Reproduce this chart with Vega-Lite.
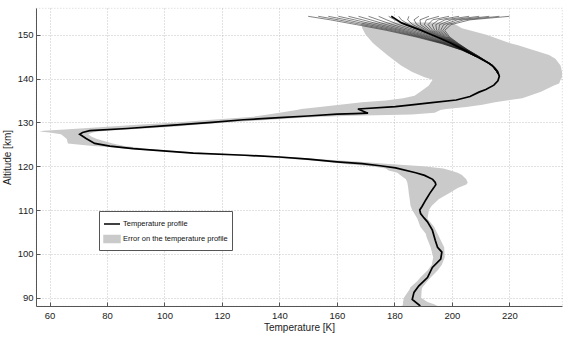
{
  "$schema": "https://vega.github.io/schema/vega-lite/v6.json",
  "width": 526,
  "height": 298,
  "autosize": "none",
  "padding": {"left": 36, "top": 8, "right": 8, "bottom": 31},
  "background": "white",
  "config": {
    "font": "Liberation Sans",
    "view": {"stroke": "#c8c8c8", "strokeDash": [1, 2], "strokeWidth": 0.8},
    "axis": {
      "grid": true,
      "gridDash": [1, 2],
      "gridColor": "#b4b4b4",
      "gridWidth": 0.8,
      "domainColor": "#555555",
      "domainWidth": 1,
      "tickColor": "#555555",
      "tickSize": -4,
      "labelFontSize": 9.5,
      "labelColor": "#222222",
      "titleFontSize": 10,
      "titleFontWeight": "normal",
      "titleColor": "#222222"
    }
  },
  "datasets": {
    "profile": [
      {"alt": 154.2, "T": 178.9}, {"alt": 153.5, "T": 180.6}, {"alt": 152.7, "T": 182.5}, {"alt": 151.9, "T": 185.6},
      {"alt": 151.1, "T": 188.9}, {"alt": 150.1, "T": 192.5}, {"alt": 149.2, "T": 195.8}, {"alt": 148.1, "T": 199.5},
      {"alt": 147.0, "T": 202.8}, {"alt": 145.8, "T": 206.5}, {"alt": 144.5, "T": 210.0}, {"alt": 143.5, "T": 212.9},
      {"alt": 142.5, "T": 214.8}, {"alt": 141.6, "T": 215.9}, {"alt": 140.5, "T": 216.5}, {"alt": 139.5, "T": 216.0},
      {"alt": 138.5, "T": 214.6}, {"alt": 137.5, "T": 211.8}, {"alt": 136.9, "T": 209.4}, {"alt": 135.9, "T": 206.3},
      {"alt": 135.1, "T": 201.5}, {"alt": 134.5, "T": 193.0}, {"alt": 134.0, "T": 186.0}, {"alt": 133.6, "T": 180.3},
      {"alt": 133.05, "T": 167.3}, {"alt": 132.1, "T": 170.8}, {"alt": 132.0, "T": 166.2}, {"alt": 131.9, "T": 160.0},
      {"alt": 131.45, "T": 149.9}, {"alt": 131.07, "T": 140.0}, {"alt": 130.6, "T": 127.5}, {"alt": 130.0, "T": 116.5},
      {"alt": 129.2, "T": 99.6}, {"alt": 128.6, "T": 87.0}, {"alt": 128.1, "T": 74.0}, {"alt": 127.7, "T": 71.5},
      {"alt": 127.3, "T": 70.5}, {"alt": 126.4, "T": 72.6}, {"alt": 125.2, "T": 75.7}, {"alt": 124.6, "T": 81.0},
      {"alt": 124.0, "T": 89.1}, {"alt": 123.0, "T": 110.0}, {"alt": 122.5, "T": 128.0}, {"alt": 122.1, "T": 140.0},
      {"alt": 121.6, "T": 150.0}, {"alt": 121.0, "T": 160.0}, {"alt": 120.6, "T": 168.7}, {"alt": 120.1, "T": 175.0},
      {"alt": 119.6, "T": 180.4}, {"alt": 118.5, "T": 187.4}, {"alt": 117.9, "T": 190.5}, {"alt": 117.0, "T": 193.3},
      {"alt": 116.3, "T": 194.2}, {"alt": 115.8, "T": 194.4}, {"alt": 115.0, "T": 193.6}, {"alt": 113.8, "T": 192.3},
      {"alt": 112.3, "T": 190.9}, {"alt": 110.8, "T": 189.6}, {"alt": 110.0, "T": 188.8}, {"alt": 109.2, "T": 189.1},
      {"alt": 108.2, "T": 190.3}, {"alt": 107.3, "T": 191.5}, {"alt": 105.4, "T": 193.2}, {"alt": 103.1, "T": 194.2},
      {"alt": 101.5, "T": 195.0}, {"alt": 100.4, "T": 196.5}, {"alt": 98.8, "T": 196.1}, {"alt": 96.9, "T": 193.2},
      {"alt": 94.6, "T": 191.5}, {"alt": 92.7, "T": 188.5}, {"alt": 91.2, "T": 186.8}, {"alt": 89.6, "T": 186.2},
      {"alt": 88.1, "T": 189.0}
    ],
    "band": [
      {"alt": 152.8, "lo": 168.5, "hi": 200.0}, {"alt": 151.5, "lo": 168.8, "hi": 203.5}, {"alt": 150.0, "lo": 170.0, "hi": 212.0},
      {"alt": 148.1, "lo": 172.5, "hi": 220.0}, {"alt": 147.6, "lo": 173.4, "hi": 223.0}, {"alt": 145.4, "lo": 177.5, "hi": 233.8},
      {"alt": 144.5, "lo": 179.2, "hi": 236.0}, {"alt": 143.0, "lo": 182.3, "hi": 237.8}, {"alt": 141.5, "lo": 186.2, "hi": 238.3},
      {"alt": 140.3, "lo": 190.5, "hi": 238.3}, {"alt": 139.7, "lo": 193.3, "hi": 237.8}, {"alt": 138.9, "lo": 192.4, "hi": 237.3},
      {"alt": 138.4, "lo": 192.0, "hi": 235.5}, {"alt": 137.0, "lo": 189.0, "hi": 231.0}, {"alt": 136.1, "lo": 187.0, "hi": 227.0},
      {"alt": 135.5, "lo": 183.0, "hi": 224.5}, {"alt": 135.0, "lo": 177.0, "hi": 219.0}, {"alt": 134.6, "lo": 168.7, "hi": 215.0},
      {"alt": 134.0, "lo": 161.0, "hi": 210.6}, {"alt": 133.5, "lo": 154.0, "hi": 205.0}, {"alt": 133.05, "lo": 147.6, "hi": 198.0},
      {"alt": 132.8, "lo": 146.0, "hi": 196.0}, {"alt": 132.2, "lo": 140.0, "hi": 194.0}, {"alt": 131.8, "lo": 136.0, "hi": 186.0},
      {"alt": 131.5, "lo": 133.0, "hi": 165.0}, {"alt": 131.3, "lo": 131.0, "hi": 155.0}, {"alt": 131.0, "lo": 125.0, "hi": 146.0},
      {"alt": 130.5, "lo": 114.0, "hi": 134.0}, {"alt": 130.0, "lo": 104.0, "hi": 122.0}, {"alt": 129.5, "lo": 92.0, "hi": 112.0},
      {"alt": 129.0, "lo": 80.0, "hi": 103.0}, {"alt": 128.5, "lo": 68.0, "hi": 90.0}, {"alt": 128.1, "lo": 58.0, "hi": 80.0},
      {"alt": 127.9, "lo": 56.5, "hi": 77.0}, {"alt": 127.7, "lo": 60.0, "hi": 75.0}, {"alt": 127.3, "lo": 64.0, "hi": 73.5},
      {"alt": 126.8, "lo": 65.0, "hi": 74.5}, {"alt": 126.2, "lo": 66.0, "hi": 76.5}, {"alt": 125.2, "lo": 66.4, "hi": 82.0},
      {"alt": 124.6, "lo": 75.0, "hi": 86.0}, {"alt": 124.3, "lo": 82.0, "hi": 90.0}, {"alt": 124.0, "lo": 86.0, "hi": 93.0},
      {"alt": 123.0, "lo": 108.0, "hi": 114.0}, {"alt": 122.5, "lo": 125.0, "hi": 133.0}, {"alt": 122.0, "lo": 137.0, "hi": 146.0},
      {"alt": 121.5, "lo": 148.0, "hi": 157.0}, {"alt": 121.0, "lo": 156.0, "hi": 168.0}, {"alt": 120.5, "lo": 163.0, "hi": 178.0},
      {"alt": 120.0, "lo": 172.0, "hi": 190.0}, {"alt": 119.5, "lo": 177.0, "hi": 197.0}, {"alt": 119.0, "lo": 178.0, "hi": 199.5},
      {"alt": 118.5, "lo": 181.0, "hi": 202.0}, {"alt": 118.0, "lo": 182.0, "hi": 203.5}, {"alt": 117.0, "lo": 184.0, "hi": 205.0},
      {"alt": 116.2, "lo": 184.5, "hi": 205.5}, {"alt": 115.8, "lo": 184.6, "hi": 205.0}, {"alt": 115.0, "lo": 184.8, "hi": 202.0},
      {"alt": 113.8, "lo": 185.0, "hi": 199.0}, {"alt": 112.5, "lo": 185.3, "hi": 195.5}, {"alt": 111.0, "lo": 185.6, "hi": 193.0},
      {"alt": 110.0, "lo": 186.2, "hi": 192.0}, {"alt": 108.0, "lo": 188.0, "hi": 191.5}, {"alt": 106.2, "lo": 189.0, "hi": 193.8},
      {"alt": 104.6, "lo": 190.9, "hi": 195.0}, {"alt": 103.8, "lo": 191.2, "hi": 195.6}, {"alt": 101.5, "lo": 192.6, "hi": 197.3},
      {"alt": 99.2, "lo": 193.5, "hi": 197.5}, {"alt": 97.5, "lo": 193.0, "hi": 196.5}, {"alt": 96.2, "lo": 191.5, "hi": 195.0},
      {"alt": 94.6, "lo": 189.0, "hi": 192.6}, {"alt": 93.8, "lo": 188.0, "hi": 191.5}, {"alt": 92.3, "lo": 185.5, "hi": 189.7},
      {"alt": 91.9, "lo": 185.3, "hi": 189.5}, {"alt": 90.0, "lo": 183.3, "hi": 189.3}, {"alt": 89.0, "lo": 183.0, "hi": 191.5},
      {"alt": 88.5, "lo": 183.0, "hi": 193.8}, {"alt": 88.1, "lo": 182.7, "hi": 195.0}
    ],
    "fan": [
      {"id": "L1", "alt": 154.2, "T": 150.0}, {"id": "L1", "alt": 153.4, "T": 157.7}, {"id": "L1", "alt": 152.3, "T": 166.8}, {"id": "L1", "alt": 151.0, "T": 177.2}, {"id": "L1", "alt": 149.5, "T": 187.5}, {"id": "L1", "alt": 148.0, "T": 196.3}, {"id": "L1", "alt": 146.5, "T": 203.4}, {"id": "L1", "alt": 145.0, "T": 208.4},
      {"id": "L2", "alt": 154.2, "T": 153.5}, {"id": "L2", "alt": 153.4, "T": 160.5}, {"id": "L2", "alt": 152.3, "T": 168.9}, {"id": "L2", "alt": 151.0, "T": 178.6}, {"id": "L2", "alt": 149.5, "T": 188.4}, {"id": "L2", "alt": 148.0, "T": 196.8}, {"id": "L2", "alt": 146.5, "T": 203.5}, {"id": "L2", "alt": 145.0, "T": 208.5},
      {"id": "L3", "alt": 154.2, "T": 157.0}, {"id": "L3", "alt": 153.4, "T": 163.3}, {"id": "L3", "alt": 152.3, "T": 171.0}, {"id": "L3", "alt": 151.0, "T": 180.1}, {"id": "L3", "alt": 149.5, "T": 189.2}, {"id": "L3", "alt": 148.0, "T": 197.2}, {"id": "L3", "alt": 146.5, "T": 203.6}, {"id": "L3", "alt": 145.0, "T": 208.5},
      {"id": "L4", "alt": 154.2, "T": 160.5}, {"id": "L4", "alt": 153.4, "T": 166.1}, {"id": "L4", "alt": 152.3, "T": 173.1}, {"id": "L4", "alt": 151.0, "T": 181.6}, {"id": "L4", "alt": 149.5, "T": 190.1}, {"id": "L4", "alt": 148.0, "T": 197.6}, {"id": "L4", "alt": 146.5, "T": 203.8}, {"id": "L4", "alt": 145.0, "T": 208.5},
      {"id": "L5", "alt": 154.2, "T": 164.0}, {"id": "L5", "alt": 153.4, "T": 168.9}, {"id": "L5", "alt": 152.3, "T": 175.2}, {"id": "L5", "alt": 151.0, "T": 183.0}, {"id": "L5", "alt": 149.5, "T": 191.0}, {"id": "L5", "alt": 148.0, "T": 198.0}, {"id": "L5", "alt": 146.5, "T": 203.9}, {"id": "L5", "alt": 145.0, "T": 208.6},
      {"id": "L6", "alt": 154.2, "T": 167.5}, {"id": "L6", "alt": 153.4, "T": 171.7}, {"id": "L6", "alt": 152.3, "T": 177.3}, {"id": "L6", "alt": 151.0, "T": 184.5}, {"id": "L6", "alt": 149.5, "T": 191.9}, {"id": "L6", "alt": 148.0, "T": 198.4}, {"id": "L6", "alt": 146.5, "T": 204.0}, {"id": "L6", "alt": 145.0, "T": 208.6},
      {"id": "L7", "alt": 154.2, "T": 171.0}, {"id": "L7", "alt": 153.4, "T": 174.5}, {"id": "L7", "alt": 152.3, "T": 179.4}, {"id": "L7", "alt": 151.0, "T": 186.0}, {"id": "L7", "alt": 149.5, "T": 192.7}, {"id": "L7", "alt": 148.0, "T": 198.9}, {"id": "L7", "alt": 146.5, "T": 204.1}, {"id": "L7", "alt": 145.0, "T": 208.6},
      {"id": "L8", "alt": 154.2, "T": 174.5}, {"id": "L8", "alt": 153.4, "T": 177.3}, {"id": "L8", "alt": 152.3, "T": 181.5}, {"id": "L8", "alt": 151.0, "T": 187.5}, {"id": "L8", "alt": 149.5, "T": 193.6}, {"id": "L8", "alt": 148.0, "T": 199.3}, {"id": "L8", "alt": 146.5, "T": 204.2}, {"id": "L8", "alt": 145.0, "T": 208.7},
      {"id": "L9", "alt": 154.2, "T": 178.0}, {"id": "L9", "alt": 153.4, "T": 180.1}, {"id": "L9", "alt": 152.3, "T": 183.6}, {"id": "L9", "alt": 151.0, "T": 188.9}, {"id": "L9", "alt": 149.5, "T": 194.5}, {"id": "L9", "alt": 148.0, "T": 199.7}, {"id": "L9", "alt": 146.5, "T": 204.3}, {"id": "L9", "alt": 145.0, "T": 208.7},
      {"id": "R1", "alt": 154.2, "T": 181.5}, {"id": "R1", "alt": 153.4, "T": 182.4}, {"id": "R1", "alt": 152.3, "T": 185.1}, {"id": "R1", "alt": 151.0, "T": 189.8}, {"id": "R1", "alt": 149.5, "T": 195.0}, {"id": "R1", "alt": 148.0, "T": 200.0}, {"id": "R1", "alt": 146.5, "T": 204.4}, {"id": "R1", "alt": 145.0, "T": 208.8}, {"id": "R1", "alt": 143.0, "T": 213.9}, {"id": "R1", "alt": 141.0, "T": 216.2},
      {"id": "R2", "alt": 154.2, "T": 185.0}, {"id": "R2", "alt": 153.4, "T": 184.6}, {"id": "R2", "alt": 152.3, "T": 186.4}, {"id": "R2", "alt": 151.0, "T": 190.5}, {"id": "R2", "alt": 149.5, "T": 195.4}, {"id": "R2", "alt": 148.0, "T": 200.2}, {"id": "R2", "alt": 146.5, "T": 204.5}, {"id": "R2", "alt": 145.0, "T": 208.8}, {"id": "R2", "alt": 143.0, "T": 213.9}, {"id": "R2", "alt": 141.0, "T": 216.2},
      {"id": "R3", "alt": 154.2, "T": 188.5}, {"id": "R3", "alt": 153.4, "T": 186.8}, {"id": "R3", "alt": 152.3, "T": 187.8}, {"id": "R3", "alt": 151.0, "T": 191.2}, {"id": "R3", "alt": 149.5, "T": 195.8}, {"id": "R3", "alt": 148.0, "T": 200.4}, {"id": "R3", "alt": 146.5, "T": 204.6}, {"id": "R3", "alt": 145.0, "T": 208.9}, {"id": "R3", "alt": 143.0, "T": 213.9}, {"id": "R3", "alt": 141.0, "T": 216.2},
      {"id": "R4", "alt": 154.2, "T": 192.0}, {"id": "R4", "alt": 153.4, "T": 188.9}, {"id": "R4", "alt": 152.3, "T": 189.1}, {"id": "R4", "alt": 151.0, "T": 191.9}, {"id": "R4", "alt": 149.5, "T": 196.1}, {"id": "R4", "alt": 148.0, "T": 200.6}, {"id": "R4", "alt": 146.5, "T": 204.8}, {"id": "R4", "alt": 145.0, "T": 209.0}, {"id": "R4", "alt": 143.0, "T": 214.0}, {"id": "R4", "alt": 141.0, "T": 216.2},
      {"id": "R5", "alt": 154.2, "T": 195.5}, {"id": "R5", "alt": 153.4, "T": 191.1}, {"id": "R5", "alt": 152.3, "T": 190.4}, {"id": "R5", "alt": 151.0, "T": 192.6}, {"id": "R5", "alt": 149.5, "T": 196.5}, {"id": "R5", "alt": 148.0, "T": 200.8}, {"id": "R5", "alt": 146.5, "T": 204.9}, {"id": "R5", "alt": 145.0, "T": 209.0}, {"id": "R5", "alt": 143.0, "T": 214.0}, {"id": "R5", "alt": 141.0, "T": 216.2},
      {"id": "R6", "alt": 154.2, "T": 199.0}, {"id": "R6", "alt": 153.4, "T": 193.3}, {"id": "R6", "alt": 152.3, "T": 191.7}, {"id": "R6", "alt": 151.0, "T": 193.3}, {"id": "R6", "alt": 149.5, "T": 196.9}, {"id": "R6", "alt": 148.0, "T": 201.0}, {"id": "R6", "alt": 146.5, "T": 205.0}, {"id": "R6", "alt": 145.0, "T": 209.1}, {"id": "R6", "alt": 143.0, "T": 214.1}, {"id": "R6", "alt": 141.0, "T": 216.2},
      {"id": "R7", "alt": 154.2, "T": 202.5}, {"id": "R7", "alt": 153.4, "T": 195.4}, {"id": "R7", "alt": 152.3, "T": 193.1}, {"id": "R7", "alt": 151.0, "T": 194.0}, {"id": "R7", "alt": 149.5, "T": 197.3}, {"id": "R7", "alt": 148.0, "T": 201.2}, {"id": "R7", "alt": 146.5, "T": 205.1}, {"id": "R7", "alt": 145.0, "T": 209.2}, {"id": "R7", "alt": 143.0, "T": 214.1}, {"id": "R7", "alt": 141.0, "T": 216.2},
      {"id": "R8", "alt": 154.2, "T": 206.0}, {"id": "R8", "alt": 153.4, "T": 197.6}, {"id": "R8", "alt": 152.3, "T": 194.4}, {"id": "R8", "alt": 151.0, "T": 194.7}, {"id": "R8", "alt": 149.5, "T": 197.7}, {"id": "R8", "alt": 148.0, "T": 201.4}, {"id": "R8", "alt": 146.5, "T": 205.3}, {"id": "R8", "alt": 145.0, "T": 209.2}, {"id": "R8", "alt": 143.0, "T": 214.1}, {"id": "R8", "alt": 141.0, "T": 216.2},
      {"id": "R9", "alt": 154.2, "T": 209.5}, {"id": "R9", "alt": 153.4, "T": 199.8}, {"id": "R9", "alt": 152.3, "T": 195.7}, {"id": "R9", "alt": 151.0, "T": 195.4}, {"id": "R9", "alt": 149.5, "T": 198.1}, {"id": "R9", "alt": 148.0, "T": 201.6}, {"id": "R9", "alt": 146.5, "T": 205.4}, {"id": "R9", "alt": 145.0, "T": 209.3}, {"id": "R9", "alt": 143.0, "T": 214.2}, {"id": "R9", "alt": 141.0, "T": 216.2},
      {"id": "R10", "alt": 154.2, "T": 213.0}, {"id": "R10", "alt": 153.4, "T": 201.9}, {"id": "R10", "alt": 152.3, "T": 197.1}, {"id": "R10", "alt": 151.0, "T": 196.1}, {"id": "R10", "alt": 149.5, "T": 198.5}, {"id": "R10", "alt": 148.0, "T": 201.8}, {"id": "R10", "alt": 146.5, "T": 205.5}, {"id": "R10", "alt": 145.0, "T": 209.4}, {"id": "R10", "alt": 143.0, "T": 214.2}, {"id": "R10", "alt": 141.0, "T": 216.2},
      {"id": "R11", "alt": 154.2, "T": 216.5}, {"id": "R11", "alt": 153.4, "T": 204.1}, {"id": "R11", "alt": 152.3, "T": 198.4}, {"id": "R11", "alt": 151.0, "T": 196.8}, {"id": "R11", "alt": 149.5, "T": 198.8}, {"id": "R11", "alt": 148.0, "T": 202.1}, {"id": "R11", "alt": 146.5, "T": 205.6}, {"id": "R11", "alt": 145.0, "T": 209.5}, {"id": "R11", "alt": 143.0, "T": 214.2}, {"id": "R11", "alt": 141.0, "T": 216.2},
      {"id": "R12", "alt": 154.2, "T": 220.0}, {"id": "R12", "alt": 153.4, "T": 206.3}, {"id": "R12", "alt": 152.3, "T": 199.7}, {"id": "R12", "alt": 151.0, "T": 197.5}, {"id": "R12", "alt": 149.5, "T": 199.2}, {"id": "R12", "alt": 148.0, "T": 202.3}, {"id": "R12", "alt": 146.5, "T": 205.7}, {"id": "R12", "alt": 145.0, "T": 209.5}, {"id": "R12", "alt": 143.0, "T": 214.3}, {"id": "R12", "alt": 141.0, "T": 216.2}
    ]
  },
  "encoding": {
    "y": {
      "type": "quantitative",
      "scale": {"domain": [88.1, 156.1], "nice": false, "zero": false},
      "axis": {"title": "Altitude [km]", "values": [90, 100, 110, 120, 130, 140, 150], "labelPadding": 7, "titlePadding": 5}
    }
  },
  "layer": [
    {
      "data": {"name": "band"},
      "mark": {"type": "area", "orient": "horizontal", "clip": true},
      "encoding": {
        "y": {"field": "alt", "type": "quantitative"},
        "x": {
          "field": "lo", "type": "quantitative",
          "scale": {"domain": [55.3, 238.3], "nice": false, "zero": false},
          "axis": {"title": "Temperature [K]", "values": [60, 80, 100, 120, 140, 160, 180, 200, 220], "labelPadding": 8, "titlePadding": 3}
        },
        "x2": {"field": "hi"},
        "color": {
          "datum": "Error on the temperature profile",
          "scale": {"domain": ["Temperature profile", "Error on the temperature profile"], "range": ["#000000", "#cacaca"]},
          "legend": {
            "title": null,
            "orient": "none",
            "legendX": 63,
            "legendY": 203,
            "padding": 4,
            "strokeColor": "#555555",
            "fillColor": "white",
            "labelFontSize": 7.5,
            "labelColor": "#111111",
            "labelOffset": 2,
            "rowPadding": 2,
            "symbolSize": 256,
            "encode": {
              "symbols": {
                "update": {
                  "shape": {"signal": "datum.value === 'Temperature profile' ? 'stroke' : 'M-1,-0.45H1V0.45H-1Z'"},
                  "fill": {"signal": "datum.value === 'Temperature profile' ? 'transparent' : '#a0a0a0'"},
                  "stroke": {"signal": "datum.value === 'Temperature profile' ? '#000000' : 'transparent'"},
                  "strokeWidth": {"value": 1.5},
                  "opacity": {"value": 1},
                  "fillOpacity": {"value": 1}
                }
              }
            }
          }
        }
      }
    },
    {
      "data": {"name": "fan"},
      "mark": {"type": "line", "stroke": "#1a1a1a", "strokeWidth": 0.55, "clip": true},
      "encoding": {
        "y": {"field": "alt", "type": "quantitative"},
        "x": {"field": "T", "type": "quantitative"},
        "detail": {"field": "id"},
        "order": {"field": "alt"}
      }
    },
    {
      "data": {"name": "profile"},
      "mark": {"type": "line", "strokeWidth": 1.7, "clip": true},
      "encoding": {
        "y": {"field": "alt", "type": "quantitative"},
        "x": {"field": "T", "type": "quantitative"},
        "order": {"field": "alt"},
        "color": {"datum": "Temperature profile"}
      }
    }
  ]
}
